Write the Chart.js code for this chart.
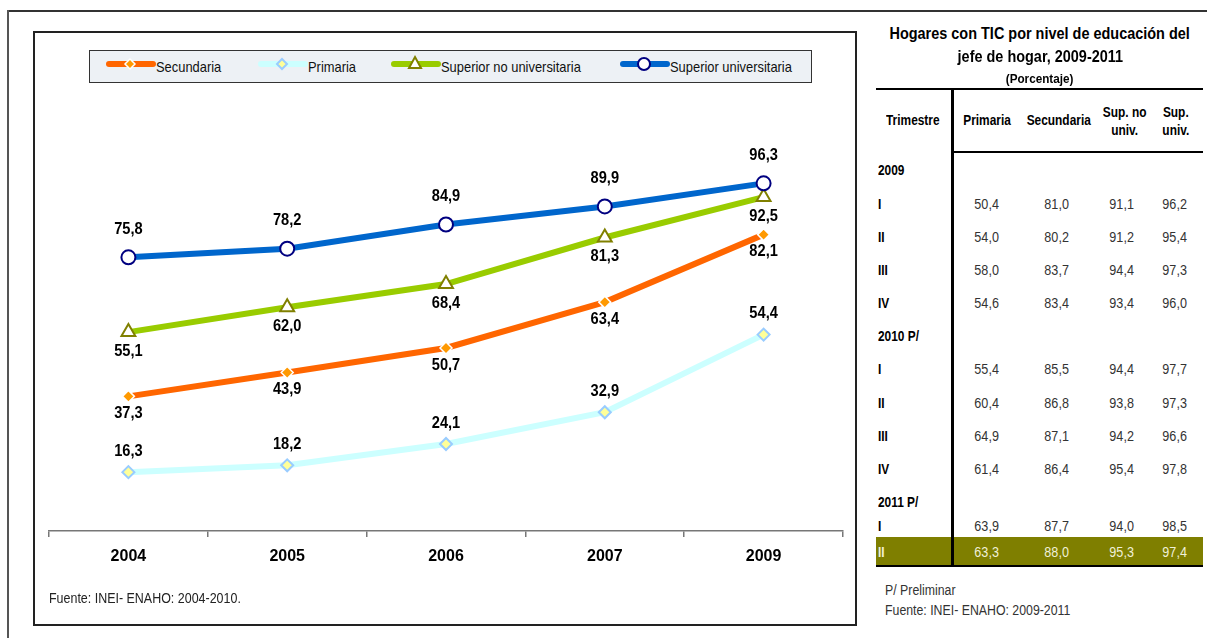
<!DOCTYPE html>
<html>
<head>
<meta charset="utf-8">
<script src="https://cdn.jsdelivr.net/npm/chart.js@4"></script>
<style>
  body { margin: 0; background: #fff; font-family: "Liberation Sans", Arial, sans-serif; }
  #page { position: relative; width: 1209px; height: 638px; overflow: hidden; }
  #frameTop { position: absolute; left: 7px; top: 10px; width: 1200px; height: 0; border-top: 2px solid #333; }
  #frameLeft { position: absolute; left: 7px; top: 10px; width: 0; height: 640px; border-left: 2px solid #555; }
  #chartBox { position: absolute; left: 33px; top: 31px; width: 820px; height: 591px; border: 2px solid #222; }
  #wrap { position: absolute; left: 0; top: 0; width: 818px; height: 589px; }
  #legend { position: absolute; left: 54px; top: 17px; width: 721px; height: 31px; border: 1px solid #333;
            background: #edf1f5; }
  .lg { position: absolute; top: 0; height: 31px; }
  .lg svg { position: absolute; top: 3px; left: 0; }
  .lg span { position: absolute; top: 7px; font-size: 15px; color: #111; white-space: nowrap;
             transform: scaleX(0.86); transform-origin: left center; }
  .t { position: absolute; white-space: nowrap; }
  .t span { display: inline-block; }
</style>
</head>
<body>
<div id="page">
  <div id="frameTop"></div>
  <div id="frameLeft"></div>
  <div id="chartBox">
    <div id="wrap"><canvas id="grafica"></canvas></div>
    <div id="legend"></div>
  </div>
  <div id="tabla"></div>
</div>
<script>
// datos de la grafica
var anios = ["2004", "2005", "2006", "2007", "2009"];
var secundaria = [37.3, 43.9, 50.7, 63.4, 82.1];
var primaria = [16.3, 18.2, 24.1, 32.9, 54.4];
var superiorNoUniv = [55.1, 62.0, 68.4, 81.3, 92.5];
var superiorUniv = [75.8, 78.2, 84.9, 89.9, 96.3];

// datos de la tabla
var trimestres = ["2009", "I", "II", "III", "IV", "2010 P/", "I", "II", "III", "IV", "2011 P/", "I", "II"];
var tPrimaria   = [null, "50,4", "54,0", "58,0", "54,6", null, "55,4", "60,4", "64,9", "61,4", null, "63,9", "63,3"];
var tSecundaria = [null, "81,0", "80,2", "83,7", "83,4", null, "85,5", "86,8", "87,1", "86,4", null, "87,7", "88,0"];
var tSupNo      = [null, "91,1", "91,2", "94,4", "93,4", null, "94,4", "93,8", "94,2", "95,4", null, "94,0", "95,3"];
var tSupUniv    = [null, "96,2", "95,4", "97,3", "96,0", null, "97,7", "97,3", "96,6", "97,8", null, "98,5", "97,4"];

var series = [
  { label: "Secundaria", data: secundaria, line: "#FF6600", width: 6, style: "rectRot", radius: 6, fill: "#FF9900", border: "#ffffff", bw: 1.5, off: 17 },
  { label: "Primaria", data: primaria, line: "#CCFFFF", width: 6, style: "rectRot", radius: 6, fill: "#FFFF99", border: "#99CCFF", bw: 2, off: -21 },
  { label: "Superior no universitaria", data: superiorNoUniv, line: "#99CC00", width: 6, style: "triangle", radius: 8, fill: "#ffffff", border: "#808000", bw: 2, off: 19 },
  { label: "Superior universitaria", data: superiorUniv, line: "#0066CC", width: 6, style: "circle", radius: 7, fill: "#ffffff", border: "#000080", bw: 2, off: -28 }
];

function fmt(v) { return v.toFixed(1).replace(".", ","); }

var etiquetas = {
  id: "etiquetas",
  afterDatasetsDraw: function(chart) {
    var ctx = chart.ctx;
    chart.data.datasets.forEach(function(ds, i) {
      chart.getDatasetMeta(i).data.forEach(function(pt, j) {
        ctx.save();
        ctx.font = "bold 17px 'Liberation Sans', Arial";
        ctx.fillStyle = "#000";
        ctx.textAlign = "center";
        ctx.textBaseline = "middle";
        ctx.translate(pt.x, pt.y + series[i].off);
        ctx.scale(0.86, 1);
        ctx.fillText(fmt(ds.data[j]), 0, 0);
        ctx.restore();
      });
    });
    // fuente
    ctx.save();
    ctx.font = "14px 'Liberation Sans', Arial";
    ctx.fillStyle = "#222";
    ctx.textBaseline = "middle";
    ctx.translate(14, 566);
    ctx.scale(0.89, 1);
    ctx.fillText("Fuente: INEI- ENAHO: 2004-2010.", 0, 0);
    ctx.restore();
  }
};

var graph = document.getElementById("grafica");
var lineChart = new Chart(graph, {
  type: "line",
  data: {
    labels: anios,
    datasets: series.map(function(s, i) {
      return {
        label: s.label,
        data: s.data,
        borderColor: s.line,
        borderWidth: s.width,
        pointStyle: s.style,
        pointRadius: s.radius,
        pointBackgroundColor: s.fill,
        pointBorderColor: s.border,
        pointBorderWidth: s.bw,
        order: 4 - i,
        clip: false,
        tension: 0
      };
    })
  },
  options: {
    responsive: true,
    maintainAspectRatio: false,
    animation: false,
    layout: { padding: { left: 14, right: 4, top: 137, bottom: 0 } },
    plugins: {
      legend: { display: false },
      tooltip: { enabled: false }
    },
    scales: {
      x: {
        offset: true,
        grid: { offset: true, drawOnChartArea: false, drawTicks: true, tickLength: 6, color: "#777", lineWidth: 1.5 },
        border: { display: true, color: "#777", width: 1.5 },
        ticks: { color: "#000", padding: 10, font: { family: "'Liberation Sans', Arial", size: 16, weight: "bold" } },
        afterFit: function(s) { s.height = 91; }
      },
      y: { display: false, min: 0, max: 100 }
    }
  },
  plugins: [etiquetas]
});

// leyenda
var lgLeft = [16, 168, 301, 530];
var legend = document.getElementById("legend");
series.forEach(function(s, i) {
  var d = document.createElement("div");
  d.className = "lg";
  d.style.left = lgLeft[i] + "px";
  var mk = "";
  if (s.style === "rectRot") mk = '<polygon points="24,5 29,10 24,15 19,10" fill="' + s.fill + '" stroke="' + s.border + '" stroke-width="' + s.bw + '"/>';
  if (s.style === "triangle") mk = '<polygon points="24,3 30,14 18,14" fill="#fff" stroke="' + s.border + '" stroke-width="2"/>';
  if (s.style === "circle") mk = '<circle cx="24" cy="10" r="6" fill="#fff" stroke="' + s.border + '" stroke-width="2"/>';
  d.innerHTML = '<svg width="50" height="20"><line x1="3" y1="10" x2="47" y2="10" stroke="' + s.line + '" stroke-width="6" stroke-linecap="round"/>' + mk + '</svg>' +
    '<span style="left:50px">' + s.label + '</span>';
  legend.appendChild(d);
});

// tabla
var tabla = document.getElementById("tabla");
function txt(html, x, y, w, opts) {
  opts = opts || {};
  var d = document.createElement("div");
  d.className = "t";
  d.style.left = x + "px";
  d.style.top = y + "px";
  if (w) { d.style.width = w + "px"; d.style.textAlign = "center"; }
  d.style.fontSize = (opts.size || 14) + "px";
  d.style.fontWeight = opts.bold ? "bold" : "normal";
  d.style.color = opts.color || (opts.bold ? "#000" : "#333");
  if (opts.lh) d.style.lineHeight = opts.lh + "px";
  var sx = opts.sx || 1;
  d.innerHTML = '<span style="transform:scaleX(' + sx + ');transform-origin:' + (w ? "center" : "left") + ' center">' + html + '</span>';
  tabla.appendChild(d);
  return d;
}
function rule(x, y, w, h, css) {
  var d = document.createElement("div");
  d.className = "t";
  d.style.cssText += "left:" + x + "px;top:" + y + "px;width:" + w + "px;height:" + h + "px;" + css;
  tabla.appendChild(d);
}
txt("Hogares con TIC por nivel de educación del", 860, 24, 360, { size: 17, bold: true, sx: 0.85 });
txt("jefe de hogar, 2009-2011", 860, 47, 360, { size: 17, bold: true, sx: 0.85 });
txt("(Porcentaje)", 860, 71, 360, { size: 13, bold: true, sx: 0.9 });
rule(876, 88, 327, 0, "border-top:2.5px solid #000;");
rule(951, 151, 252, 0, "border-top:2.5px solid #000;");
rule(876, 537, 327, 28, "background:#7F7F00;");
rule(876, 565, 327, 0, "border-top:2.5px solid #000;");
rule(951, 89, 0, 478, "border-left:3px solid #000;");
txt("Trimestre", 886, 112, 0, { bold: true, sx: 0.85 });
txt("Primaria", 957, 112, 60, { bold: true, sx: 0.85 });
txt("Secundaria", 1019, 112, 80, { bold: true, sx: 0.85 });
txt("Sup. no<br>univ.", 1095, 103, 60, { bold: true, sx: 0.85, lh: 18 });
txt("Sup.<br>univ.", 1151, 103, 50, { bold: true, sx: 0.85, lh: 18 });
var filasY = [162, 196, 229, 262, 295, 328, 361, 395, 428, 461, 494, 518, 544];
trimestres.forEach(function(t, i) {
  var last = i === trimestres.length - 1;
  var col = last ? "#f0f0d8" : null;
  txt(t, 878, filasY[i], 0, { bold: true, sx: 0.85, color: col || "#000" });
  if (tPrimaria[i] !== null) {
    txt(tPrimaria[i], 962, filasY[i], 50, { sx: 0.9, color: col });
    txt(tSecundaria[i], 1032, filasY[i], 50, { sx: 0.9, color: col });
    txt(tSupNo[i], 1097, filasY[i], 50, { sx: 0.9, color: col });
    txt(tSupUniv[i], 1150, filasY[i], 50, { sx: 0.9, color: col });
  }
});
txt("P/ Preliminar", 885, 582, 0, { sx: 0.88 });
txt("Fuente: INEI- ENAHO: 2009-2011", 885, 602, 0, { sx: 0.88 });
</script>
</body>
</html>
